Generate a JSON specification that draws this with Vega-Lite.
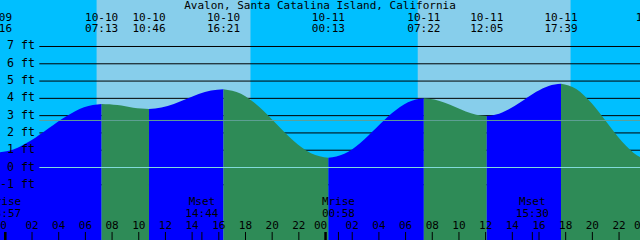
{
  "$schema": "https://vega.github.io/schema/vega-lite/v6.json",
  "width": 640,
  "height": 240,
  "autosize": "none",
  "padding": 0,
  "background": "#00BFFF",
  "config": {"view": {"stroke": null}, "font": "DejaVu Sans Mono", "text": {"font": "DejaVu Sans Mono", "color": "black"}},
  "datasets": {
    "daylight": [
      {"start": -1, "end": 6.84, "sky": "night"},
      {"start": 6.84, "end": 18.39, "sky": "day"},
      {"start": 18.39, "end": 30.91, "sky": "night"},
      {"start": 30.91, "end": 42.38, "sky": "day"},
      {"start": 42.38, "end": 49, "sky": "night"}
    ],
    "levels": [
      {"level": -1, "label": "-1 ft"}, {"level": 0, "label": "0 ft"}, {"level": 1, "label": "1 ft"},
      {"level": 2, "label": "2 ft"}, {"level": 3, "label": "3 ft"}, {"level": 4, "label": "4 ft"},
      {"level": 5, "label": "5 ft"}, {"level": 6, "label": "6 ft"}, {"level": 7, "label": "7 ft"}
    ],
    "hours": [
      {"h": 0, "label": "00", "kind": "midnight"}, {"h": 2, "label": "02", "kind": "hour"}, {"h": 4, "label": "04", "kind": "hour"},
      {"h": 6, "label": "06", "kind": "hour"}, {"h": 8, "label": "08", "kind": "hour"}, {"h": 10, "label": "10", "kind": "hour"},
      {"h": 12, "label": "12", "kind": "hour"}, {"h": 14, "label": "14", "kind": "hour"}, {"h": 16, "label": "16", "kind": "hour"},
      {"h": 18, "label": "18", "kind": "hour"}, {"h": 20, "label": "20", "kind": "hour"}, {"h": 22, "label": "22", "kind": "hour"},
      {"h": 24, "label": "00", "kind": "midnight"}, {"h": 26, "label": "02", "kind": "hour"}, {"h": 28, "label": "04", "kind": "hour"},
      {"h": 30, "label": "06", "kind": "hour"}, {"h": 32, "label": "08", "kind": "hour"}, {"h": 34, "label": "10", "kind": "hour"},
      {"h": 36, "label": "12", "kind": "hour"}, {"h": 38, "label": "14", "kind": "hour"}, {"h": 40, "label": "16", "kind": "hour"},
      {"h": 42, "label": "18", "kind": "hour"}, {"h": 44, "label": "20", "kind": "hour"}, {"h": 46, "label": "22", "kind": "hour"},
      {"h": 48, "label": "00", "kind": "midnight"}
    ],
    "curve": [
      {"seg": 0, "phase": "rising", "h": -0.733, "level": 0.85},
      {"seg": 0, "phase": "rising", "h": 0.595, "level": 1.04},
      {"seg": 0, "phase": "rising", "h": 1.92, "level": 1.56},
      {"seg": 0, "phase": "rising", "h": 3.245, "level": 2.27},
      {"seg": 0, "phase": "rising", "h": 4.57, "level": 2.97},
      {"seg": 0, "phase": "rising", "h": 5.895, "level": 3.49},
      {"seg": 0, "phase": "rising", "h": 7.217, "level": 3.68},
      {"seg": 1, "phase": "falling", "h": 7.217, "level": 3.68},
      {"seg": 1, "phase": "falling", "h": 7.812, "level": 3.66},
      {"seg": 1, "phase": "falling", "h": 8.403, "level": 3.61},
      {"seg": 1, "phase": "falling", "h": 8.995, "level": 3.54},
      {"seg": 1, "phase": "falling", "h": 9.587, "level": 3.46},
      {"seg": 1, "phase": "falling", "h": 10.178, "level": 3.41},
      {"seg": 1, "phase": "falling", "h": 10.767, "level": 3.39},
      {"seg": 2, "phase": "rising", "h": 10.767, "level": 3.39},
      {"seg": 2, "phase": "rising", "h": 11.7, "level": 3.47},
      {"seg": 2, "phase": "rising", "h": 12.63, "level": 3.68},
      {"seg": 2, "phase": "rising", "h": 13.56, "level": 3.96},
      {"seg": 2, "phase": "rising", "h": 14.49, "level": 4.25},
      {"seg": 2, "phase": "rising", "h": 15.42, "level": 4.45},
      {"seg": 2, "phase": "rising", "h": 16.35, "level": 4.53},
      {"seg": 3, "phase": "falling", "h": 16.35, "level": 4.53},
      {"seg": 3, "phase": "falling", "h": 17.662, "level": 4.26},
      {"seg": 3, "phase": "falling", "h": 18.973, "level": 3.54},
      {"seg": 3, "phase": "falling", "h": 20.285, "level": 2.55},
      {"seg": 3, "phase": "falling", "h": 21.597, "level": 1.55},
      {"seg": 3, "phase": "falling", "h": 22.908, "level": 0.83},
      {"seg": 3, "phase": "falling", "h": 24.217, "level": 0.56},
      {"seg": 4, "phase": "rising", "h": 24.217, "level": 0.56},
      {"seg": 4, "phase": "rising", "h": 25.412, "level": 0.79},
      {"seg": 4, "phase": "rising", "h": 26.603, "level": 1.42},
      {"seg": 4, "phase": "rising", "h": 27.795, "level": 2.29},
      {"seg": 4, "phase": "rising", "h": 28.987, "level": 3.15},
      {"seg": 4, "phase": "rising", "h": 30.178, "level": 3.78},
      {"seg": 4, "phase": "rising", "h": 31.367, "level": 4.01},
      {"seg": 5, "phase": "falling", "h": 31.367, "level": 4.01},
      {"seg": 5, "phase": "falling", "h": 32.155, "level": 3.94},
      {"seg": 5, "phase": "falling", "h": 32.94, "level": 3.75},
      {"seg": 5, "phase": "falling", "h": 33.725, "level": 3.5},
      {"seg": 5, "phase": "falling", "h": 34.51, "level": 3.24},
      {"seg": 5, "phase": "falling", "h": 35.295, "level": 3.05},
      {"seg": 5, "phase": "falling", "h": 36.083, "level": 2.98},
      {"seg": 6, "phase": "rising", "h": 36.083, "level": 2.98},
      {"seg": 6, "phase": "rising", "h": 37.008, "level": 3.11},
      {"seg": 6, "phase": "rising", "h": 37.937, "level": 3.45},
      {"seg": 6, "phase": "rising", "h": 38.865, "level": 3.91},
      {"seg": 6, "phase": "rising", "h": 39.793, "level": 4.38},
      {"seg": 6, "phase": "rising", "h": 40.722, "level": 4.72},
      {"seg": 6, "phase": "rising", "h": 41.65, "level": 4.84},
      {"seg": 7, "phase": "falling", "h": 41.65, "level": 4.84},
      {"seg": 7, "phase": "falling", "h": 42.792, "level": 4.54},
      {"seg": 7, "phase": "falling", "h": 43.933, "level": 3.73},
      {"seg": 7, "phase": "falling", "h": 45.075, "level": 2.62},
      {"seg": 7, "phase": "falling", "h": 46.217, "level": 1.51},
      {"seg": 7, "phase": "falling", "h": 47.358, "level": 0.7},
      {"seg": 7, "phase": "falling", "h": 48.5, "level": 0.4}
    ],
    "tides": [
      {"h": -0.733, "date": "10-09", "time": "23:16"},
      {"h": 7.217, "date": "10-10", "time": "07:13"},
      {"h": 10.767, "date": "10-10", "time": "10:46"},
      {"h": 16.35, "date": "10-10", "time": "16:21"},
      {"h": 24.217, "date": "10-11", "time": "00:13"},
      {"h": 31.367, "date": "10-11", "time": "07:22"},
      {"h": 36.083, "date": "10-11", "time": "12:05"},
      {"h": 41.65, "date": "10-11", "time": "17:39"},
      {"h": 48.5, "date": "10-12", "time": ""}
    ],
    "moon": [
      {"h": -0.05, "kind": "Mrise", "time": "23:57"},
      {"h": 14.733, "kind": "Mset", "time": "14:44"},
      {"h": 24.967, "kind": "Mrise", "time": "00:58"},
      {"h": 39.5, "kind": "Mset", "time": "15:30"}
    ],
    "refs": [
      {"name": "MSL", "level": 2.72},
      {"name": "datum", "level": 0}
    ],
    "heading": [
      {"h": 23.585, "title": "Avalon, Santa Catalina Island, California"}
    ]
  },
  "resolve": {"scale": {"color": "independent", "strokeWidth": "independent"}},
  "layer": [
    {
      "data": {"name": "daylight"},
      "mark": {"type": "rect", "clip": true},
      "encoding": {
        "x": {"field": "start", "type": "quantitative", "scale": {"domain": [-0.4, 47.57], "nice": false, "zero": false}, "axis": null},
        "x2": {"field": "end"},
        "color": {"field": "sky", "type": "nominal", "scale": {"domain": ["night", "day"], "range": ["#00BFFF", "#87CEEB"]}, "legend": null}
      }
    },
    {
      "data": {"name": "levels"},
      "mark": {"type": "rule", "color": "black", "strokeWidth": 1},
      "encoding": {
        "y": {"field": "level", "type": "quantitative", "scale": {"domain": [-4.194, 9.69], "nice": false, "zero": false}, "axis": null},
        "x": {"datum": 2.55, "type": "quantitative", "scale": {"domain": [-0.4, 47.57], "nice": false, "zero": false}, "axis": null},
        "x2": {"datum": 47.57}
      }
    },
    {
      "data": {"name": "curve"},
      "mark": {"type": "area", "interpolate": "monotone", "clip": true, "strokeWidth": 0},
      "encoding": {
        "x": {"field": "h", "type": "quantitative", "scale": {"domain": [-0.4, 47.57], "nice": false, "zero": false}, "axis": null},
        "y": {"field": "level", "type": "quantitative", "scale": {"domain": [-4.194, 9.69], "nice": false, "zero": false}, "axis": null},
        "y2": {"datum": -5},
        "detail": {"field": "seg", "type": "nominal"},
        "color": {"field": "phase", "type": "nominal", "scale": {"domain": ["rising", "falling"], "range": ["#0000FF", "#2E8B57"]}, "legend": null}
      }
    },
    {
      "data": {"name": "refs"},
      "mark": {"type": "rule", "strokeWidth": 1},
      "encoding": {
        "y": {"field": "level", "type": "quantitative", "scale": {"domain": [-4.194, 9.69], "nice": false, "zero": false}, "axis": null},
        "x": {"datum": 2.55, "type": "quantitative", "scale": {"domain": [-0.4, 47.57], "nice": false, "zero": false}, "axis": null},
        "x2": {"datum": 47.57},
        "color": {"field": "name", "type": "nominal", "scale": {"domain": ["MSL", "datum"], "range": ["#5FA096", "#80DADA"]}, "legend": null}
      }
    },
    {
      "data": {"name": "levels"},
      "mark": {"type": "text", "fontSize": 11.6, "align": "right", "baseline": "middle", "clip": true},
      "encoding": {
        "y": {"field": "level", "type": "quantitative", "scale": {"domain": [-4.194, 9.69], "nice": false, "zero": false}, "axis": null},
        "x": {"datum": 2.22, "type": "quantitative", "scale": {"domain": [-0.4, 47.57], "nice": false, "zero": false}, "axis": null},
        "text": {"field": "label"}
      }
    },
    {
      "data": {"name": "hours"},
      "mark": {"type": "rule", "color": "black", "clip": true},
      "encoding": {
        "x": {"field": "h", "type": "quantitative", "scale": {"domain": [-0.4, 47.57], "nice": false, "zero": false}, "axis": null},
        "y": {"datum": -3.73, "type": "quantitative", "scale": {"domain": [-4.194, 9.69], "nice": false, "zero": false}, "axis": null},
        "y2": {"datum": -4.194},
        "strokeWidth": {"field": "kind", "type": "nominal", "scale": {"domain": ["midnight", "hour"], "range": [2.5, 1]}, "legend": null}
      }
    },
    {
      "data": {"name": "moon"},
      "mark": {"type": "rule", "color": "black", "strokeWidth": 1, "clip": true},
      "encoding": {
        "x": {"field": "h", "type": "quantitative", "scale": {"domain": [-0.4, 47.57], "nice": false, "zero": false}, "axis": null},
        "y": {"datum": -3.73, "type": "quantitative", "scale": {"domain": [-4.194, 9.69], "nice": false, "zero": false}, "axis": null},
        "y2": {"datum": -4.194}
      }
    },
    {
      "data": {"name": "hours"},
      "transform": [{"filter": "datum.kind === 'hour'"}],
      "mark": {"type": "text", "fontSize": 11, "align": "center", "baseline": "middle", "clip": true},
      "encoding": {
        "x": {"field": "h", "type": "quantitative", "scale": {"domain": [-0.4, 47.57], "nice": false, "zero": false}, "axis": null},
        "y": {"datum": -3.37, "type": "quantitative", "scale": {"domain": [-4.194, 9.69], "nice": false, "zero": false}, "axis": null},
        "text": {"field": "label"}
      }
    },
    {
      "data": {"name": "hours"},
      "transform": [{"filter": "datum.kind === 'midnight'"}],
      "mark": {"type": "text", "fontSize": 11, "align": "center", "baseline": "middle", "dx": -5, "clip": true},
      "encoding": {
        "x": {"field": "h", "type": "quantitative", "scale": {"domain": [-0.4, 47.57], "nice": false, "zero": false}, "axis": null},
        "y": {"datum": -3.37, "type": "quantitative", "scale": {"domain": [-4.194, 9.69], "nice": false, "zero": false}, "axis": null},
        "text": {"field": "label"}
      }
    },
    {
      "data": {"name": "heading"},
      "mark": {"type": "text", "fontSize": 11, "align": "center", "baseline": "middle", "clip": true},
      "encoding": {
        "x": {"field": "h", "type": "quantitative", "scale": {"domain": [-0.4, 47.57], "nice": false, "zero": false}, "axis": null},
        "y": {"datum": 9.35, "type": "quantitative", "scale": {"domain": [-4.194, 9.69], "nice": false, "zero": false}, "axis": null},
        "text": {"field": "title"}
      }
    },
    {
      "data": {"name": "tides"},
      "mark": {"type": "text", "fontSize": 11, "align": "center", "baseline": "middle", "clip": true},
      "encoding": {
        "x": {"field": "h", "type": "quantitative", "scale": {"domain": [-0.4, 47.57], "nice": false, "zero": false}, "axis": null},
        "y": {"datum": 8.67, "type": "quantitative", "scale": {"domain": [-4.194, 9.69], "nice": false, "zero": false}, "axis": null},
        "text": {"field": "date"}
      }
    },
    {
      "data": {"name": "tides"},
      "mark": {"type": "text", "fontSize": 11, "align": "center", "baseline": "middle", "clip": true},
      "encoding": {
        "x": {"field": "h", "type": "quantitative", "scale": {"domain": [-0.4, 47.57], "nice": false, "zero": false}, "axis": null},
        "y": {"datum": 7.99, "type": "quantitative", "scale": {"domain": [-4.194, 9.69], "nice": false, "zero": false}, "axis": null},
        "text": {"field": "time"}
      }
    },
    {
      "data": {"name": "moon"},
      "mark": {"type": "text", "fontSize": 11, "align": "center", "baseline": "middle", "clip": true},
      "encoding": {
        "x": {"field": "h", "type": "quantitative", "scale": {"domain": [-0.4, 47.57], "nice": false, "zero": false}, "axis": null},
        "y": {"datum": -1.97, "type": "quantitative", "scale": {"domain": [-4.194, 9.69], "nice": false, "zero": false}, "axis": null},
        "text": {"field": "kind"}
      }
    },
    {
      "data": {"name": "moon"},
      "mark": {"type": "text", "fontSize": 11, "align": "center", "baseline": "middle", "clip": true},
      "encoding": {
        "x": {"field": "h", "type": "quantitative", "scale": {"domain": [-0.4, 47.57], "nice": false, "zero": false}, "axis": null},
        "y": {"datum": -2.68, "type": "quantitative", "scale": {"domain": [-4.194, 9.69], "nice": false, "zero": false}, "axis": null},
        "text": {"field": "time"}
      }
    }
  ]
}
